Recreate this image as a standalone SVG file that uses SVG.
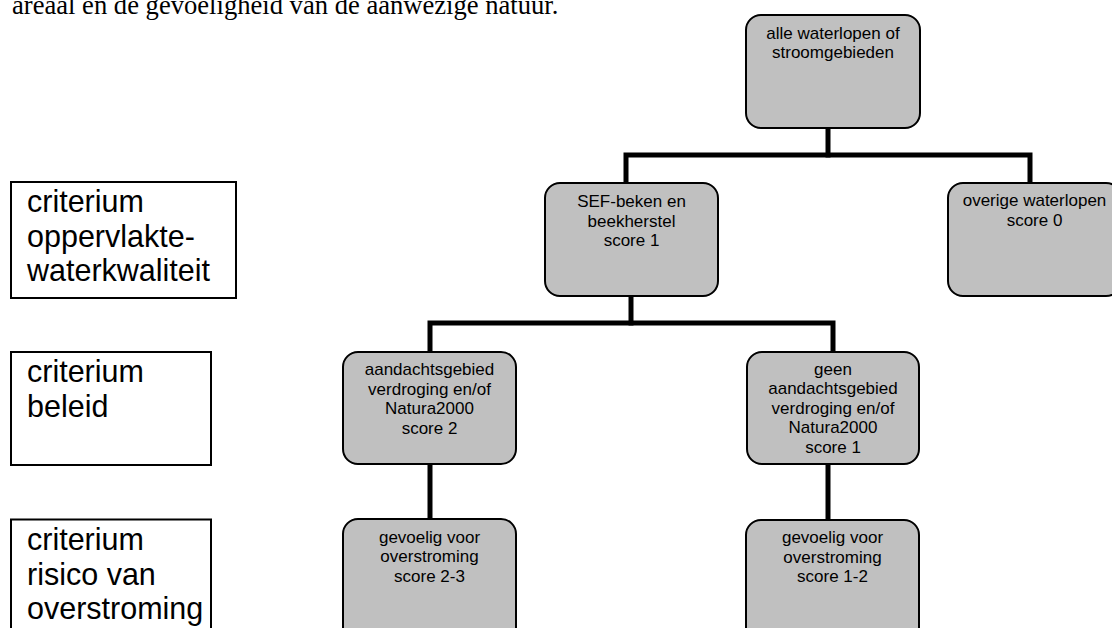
<svg xmlns="http://www.w3.org/2000/svg" width="1112" height="628" viewBox="0 0 1112 628">
<style>
.node{fill:#c0c0c0;stroke:#000;stroke-width:2}
.lbl{fill:#fff;stroke:#000;stroke-width:2}
.nt{font-family:"Liberation Sans",Arial,sans-serif;font-size:17px;fill:#000;text-anchor:middle}
.lt{font-family:"Liberation Sans",Arial,sans-serif;font-size:30.5px;fill:#000}
.conn{fill:none;stroke:#000;stroke-width:5;stroke-linejoin:miter;stroke-linecap:square}
.intro{font-family:"Liberation Serif","Times New Roman",serif;font-size:26.6px;fill:#000}
</style>
<rect width="1112" height="628" fill="#fff"/>
<text class="intro" x="12" y="13.5">areaal en de gevoeligheid van de aanwezige natuur.</text>

<g id="label-oppervlaktewater">
<rect class="lbl" x="11" y="182" width="225" height="116"/>
<text class="lt"><tspan x="27" y="212">criterium</tspan><tspan x="27" y="246.5">oppervlakte-</tspan><tspan x="27" y="281">waterkwaliteit</tspan></text>
</g>
<g id="label-beleid">
<rect class="lbl" x="11" y="352" width="200" height="113"/>
<text class="lt"><tspan x="27" y="382">criterium</tspan><tspan x="27" y="416.5">beleid</tspan></text>
</g>
<g id="label-overstroming">
<rect class="lbl" x="11" y="519.5" width="200" height="130"/>
<text class="lt"><tspan x="27" y="550">criterium</tspan><tspan x="27" y="584.5">risico van</tspan><tspan x="27" y="619">overstroming</tspan></text>
</g>

<g id="connectors">
<path class="conn" d="M828,128 V155"/>
<path class="conn" d="M626,183 V155 H1030 V183"/>
<path class="conn" d="M631,296 V323"/>
<path class="conn" d="M430,352 V323 H833 V352"/>
<path class="conn" d="M430,464 V519"/>
<path class="conn" d="M828,464 V520"/>
</g>

<g id="node-alle">
<rect class="node" x="746" y="15" width="174" height="113" rx="15"/>
<text class="nt"><tspan x="833" y="38.5">alle waterlopen of</tspan><tspan x="833" y="58">stroomgebieden</tspan></text>
</g>
<g id="node-sef">
<rect class="node" x="545" y="183" width="173" height="113" rx="15"/>
<text class="nt"><tspan x="631.5" y="206.5">SEF-beken en</tspan><tspan x="631.5" y="226.5">beekherstel</tspan><tspan x="631.5" y="246">score 1</tspan></text>
</g>
<g id="node-overige">
<rect class="node" x="948" y="183" width="173" height="113" rx="15"/>
<text class="nt"><tspan x="1034.5" y="206">overige waterlopen</tspan><tspan x="1034.5" y="225.5">score 0</tspan></text>
</g>
<g id="node-aandacht">
<rect class="node" x="343" y="352" width="173" height="112" rx="15"/>
<text class="nt"><tspan x="429.5" y="375">aandachtsgebied</tspan><tspan x="429.5" y="394.5">verdroging en/of</tspan><tspan x="429.5" y="414">Natura2000</tspan><tspan x="429.5" y="433.5">score 2</tspan></text>
</g>
<g id="node-geen">
<rect class="node" x="747" y="352" width="172" height="112" rx="15"/>
<text class="nt"><tspan x="833" y="374.5">geen</tspan><tspan x="833" y="394">aandachtsgebied</tspan><tspan x="833" y="413.5">verdroging en/of</tspan><tspan x="833" y="433">Natura2000</tspan><tspan x="833" y="452.5">score 1</tspan></text>
</g>
<g id="node-gevoelig-23">
<rect class="node" x="343" y="519" width="173" height="130" rx="15"/>
<text class="nt"><tspan x="429.5" y="542.5">gevoelig voor</tspan><tspan x="429.5" y="562">overstroming</tspan><tspan x="429.5" y="581.5">score 2-3</tspan></text>
</g>
<g id="node-gevoelig-12">
<rect class="node" x="746" y="520" width="173" height="130" rx="15"/>
<text class="nt"><tspan x="832.5" y="543">gevoelig voor</tspan><tspan x="832.5" y="562.5">overstroming</tspan><tspan x="832.5" y="582">score 1-2</tspan></text>
</g>
</svg>
